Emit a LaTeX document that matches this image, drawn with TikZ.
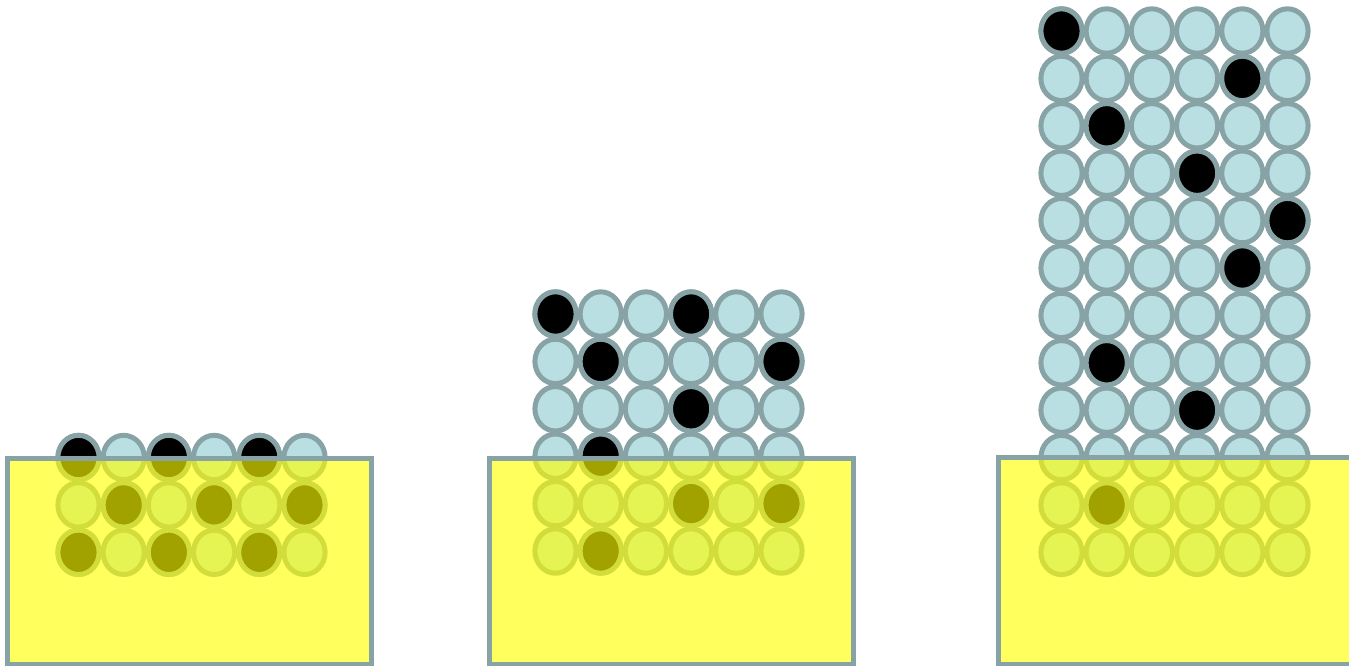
\documentclass[tikz,border=0pt]{standalone}
\definecolor{cfill}{HTML}{B9DFE3}
\definecolor{cline}{HTML}{87A3A5}
\definecolor{sandy}{HTML}{FFFF00}
\tikzset{
  bead/.style={draw=cline, line width=5pt, fill=cfill},
  blk/.style={draw=cline, line width=5pt, fill=black},
  sand/.style={fill=sandy, fill opacity=0.63, draw=cline, draw opacity=1, line width=5pt}
}
% #1 x0, #2 ytop, #3 last row index, #4 black cells row/col
\newcommand\beadgrid[4]{%
  \foreach \r in {0,...,#3}{\foreach \c in {0,...,5}{%
    \draw[bead] (#1+\c*45.2, #2+\r*47.4) ellipse [x radius=20.6pt, y radius=22.2pt];}}
  \foreach \r/\c in {#4}{%
    \draw[blk] (#1+\c*45.2, #2+\r*47.4) ellipse [x radius=20.6pt, y radius=22.2pt];}
}
\begin{document}
\begin{tikzpicture}[x=1pt,y=-1pt]
\useasboundingbox (0,0) rectangle (1349,665);
% group 1
\beadgrid{78.5}{457.5}{2}{0/0,0/2,0/4,1/1,1/3,1/5,2/0,2/2,2/4}
\draw[sand] (7.5,458) rectangle (371,664);
% group 2
\beadgrid{555.5}{314}{5}{0/0,0/3,1/1,1/5,2/3,3/1,4/3,4/5,5/1}
\draw[sand] (489,458) rectangle (853,664);
% group 3
\beadgrid{1061.5}{31}{11}{0/0,1/4,2/1,3/3,4/5,5/4,7/1,8/3,10/1}
\draw[sand] (998,457) rectangle (1365,664);
\end{tikzpicture}
\end{document}
